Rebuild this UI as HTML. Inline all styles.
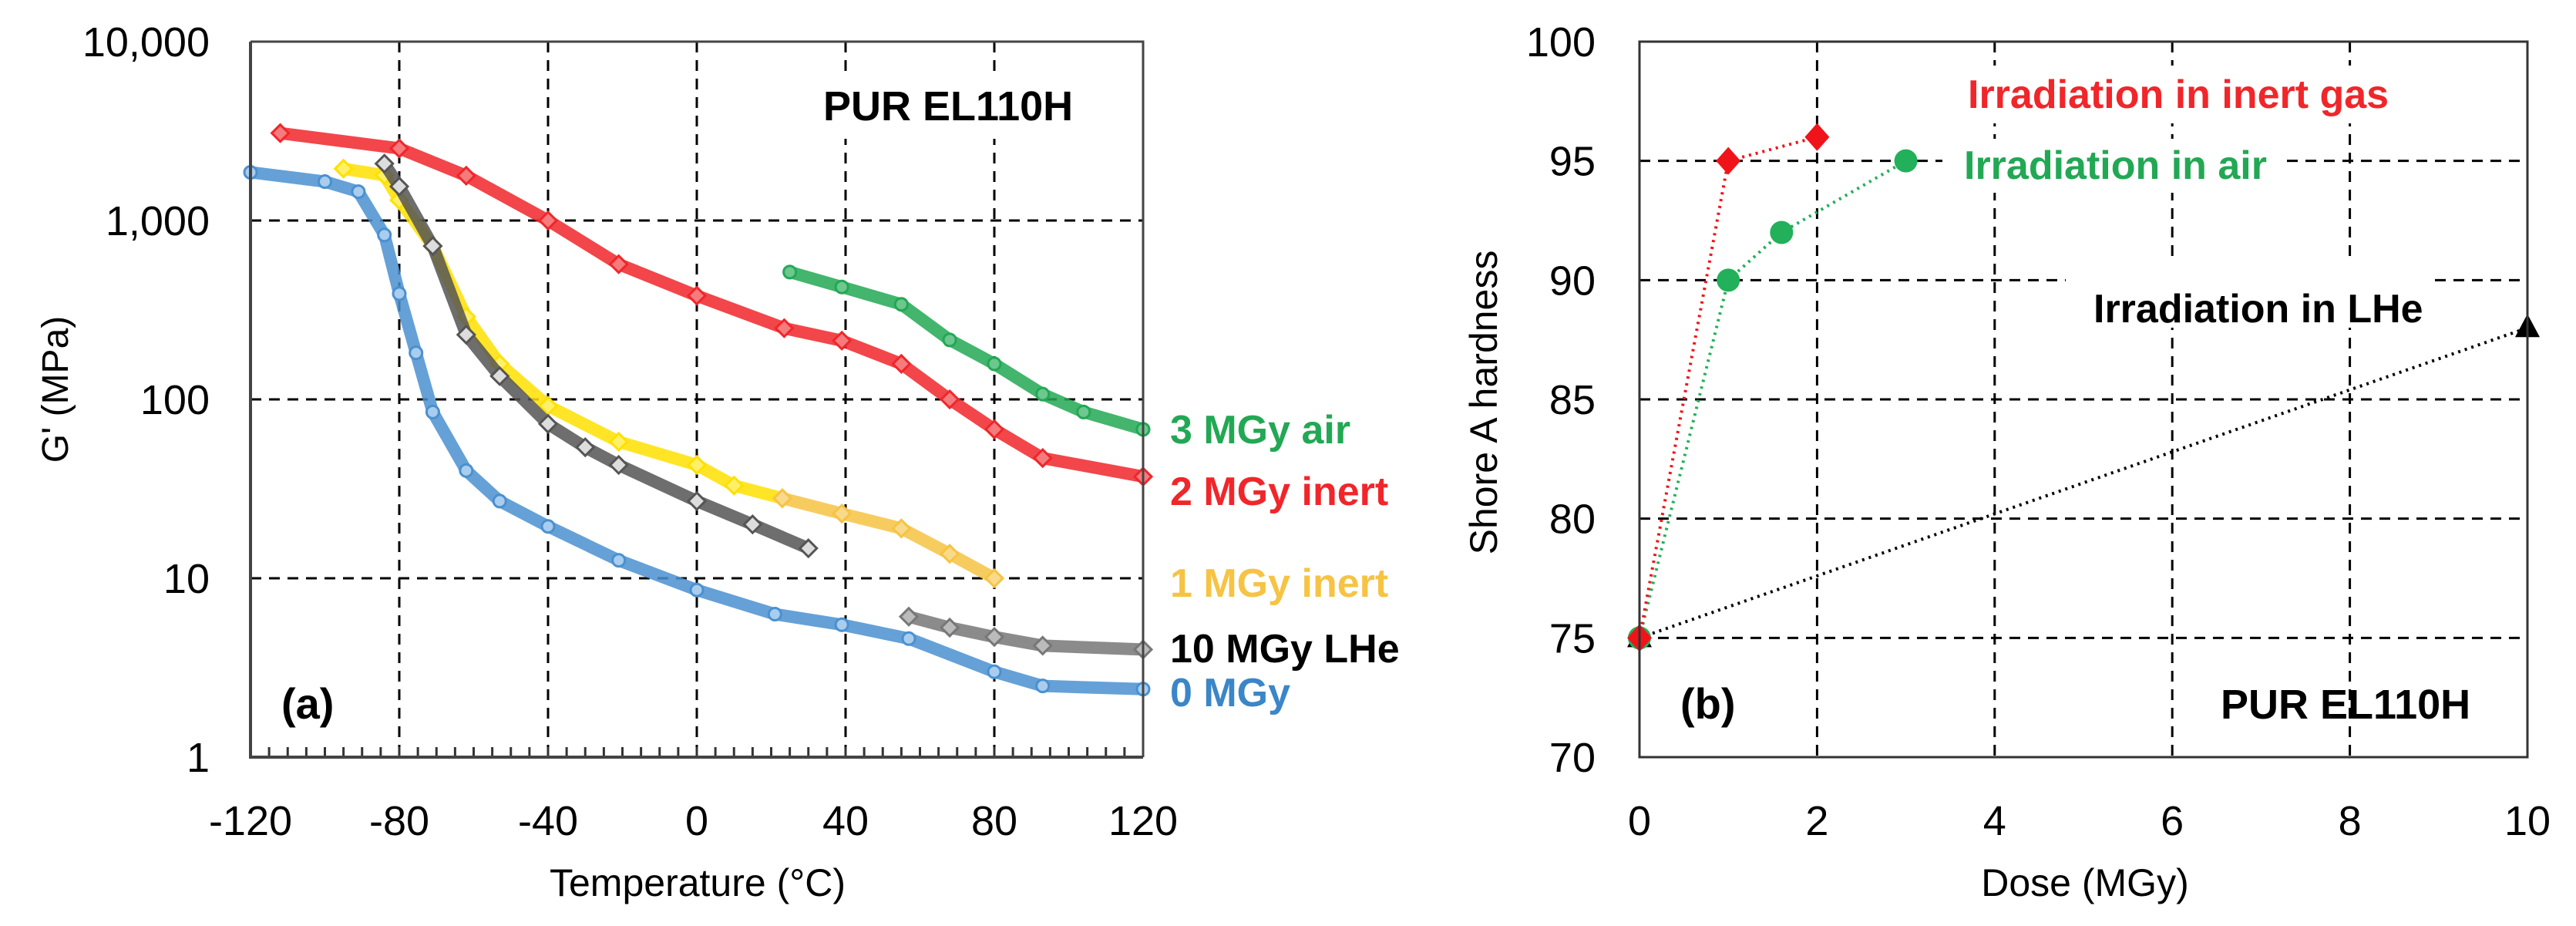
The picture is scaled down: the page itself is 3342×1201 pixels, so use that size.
<!DOCTYPE html>
<html><head><meta charset="utf-8"><style>
html,body{margin:0;padding:0;background:#fff;}
svg{display:block;font-family:"Liberation Sans Narrow","Liberation Sans",sans-serif;}
</style></head><body>
<svg id="fig" width="3342" height="1201" viewBox="0 0 3342 1201" xmlns="http://www.w3.org/2000/svg">
<g id="chartA"></g>
<g id="chartB"></g>
</svg>
<script>
// ---- Chart A data (temperature °C, G' MPa) ----
const aXTicks = [-120,-80,-40,0,40,80,120];
const aYTicks = [1,10,100,1000,10000];
const aYTickLabels = ["1","10","100","1,000","10,000"];
const t0 = [-120,-100,-91,-84,-80,-75.5,-71,-62,-53,-40,-21,0,21,39,57,80,93,120];
const g0 = [1860,1650,1450,830,390,182,85,40,27,19.5,12.6,8.6,6.3,5.5,4.6,3.0,2.5,2.4];
const t2 = [-112,-80,-62,-40,-21,0,23.5,39,55,68,80,93,120];
const g2 = [3080,2530,1780,1000,570,380,250,213,158,100,68,47,37];
const t3 = [25,39,55,68,80,93,104,120];
const g3 = [515,425,340,215,158,107,85,68];
const t1a = [-95,-84,-80,-71,-62,-53,-40,-21,0,10,23];
const g1a = [1950,1790,1300,720,290,158,92,58,43,33,28];
const t1b = [23,39,55,68,80];
const g1b = [28,23,19,13.7,10];
const t10a = [-84,-80,-71,-62,-53,-40,-30,-21,0,15,30];
const g10a = [2080,1550,720,230,135,73,54,43,27,20,14.7];
const t10b = [57,68,80,93,120];
const g10b = [6.1,5.3,4.7,4.2,4.0];
// ---- Chart B data (dose MGy, Shore A) ----
const bXTicks = [0,2,4,6,8,10];
const bYTicks = [70,75,80,85,90,95,100];
const doseInert = [0,1,2];
const hardInert = [75,95,96];
const doseAir = [0,1,1.6,3];
const hardAir = [75,90,92,95];
const doseLHe = [0,10];
const hardLHe = [75,88];

const NS="http://www.w3.org/2000/svg";
function mk(parent,tag,attrs,text){const e=document.createElementNS(NS,tag);for(const k in attrs)e.setAttribute(k,attrs[k]);if(text!==undefined)e.textContent=text;parent.appendChild(e);return e;}

// ===== Chart A =====
const A=document.getElementById('chartA');
const aL=325,aR=1483,aT=54,aB=982;
const ax=v=>aL+(v+120)/240*(aR-aL);
const ay=v=>aB-Math.log10(v)/4*(aB-aT);
// grid
aXTicks.slice(1,-1).forEach(v=>{const l=mk(A,'line',{x1:ax(v),x2:ax(v),y1:aT,y2:aB,stroke:'#000','stroke-width':3,'stroke-dasharray':'14,10'});

});
aYTicks.slice(1,-1).forEach(v=>{const l=mk(A,'line',{x1:aL,x2:aR,y1:ay(v),y2:ay(v),stroke:'#000','stroke-width':3,'stroke-dasharray':'14,10'});

});
// minor ticks
for(let v=-115;v<120;v+=5){const l=mk(A,'line',{x1:ax(v),x2:ax(v),y1:aB,y2:aB-13,stroke:'#333','stroke-width':3});

}
// labels with white backgrounds
function labelA(parent,x,y,txt,color,name,size,bg,anchor){
 if(bg){const r=mk(parent,'rect',{x:bg[0],y:bg[1],width:bg[2],height:bg[3],fill:'#fff'});}
 const t=mk(parent,'text',{x:x,y:y,fill:color,'font-size':size,'font-weight':'bold','text-anchor':anchor||'start'},txt);
 return t;}
labelA(A,1068,156,'PUR EL110H','#000','chart-a-title-label',54,[1050,100,360,80]);
labelA(A,365,932,'(a)','#000','panel-a-label',56);
// series
function seriesA(xs,ys,color,mfill,name,shape){
 const g=mk(A,'g',{});
 const pts=xs.map((x,i)=>ax(x)+','+ay(ys[i])).join(' ');
 const pl=mk(g,'polyline',{points:pts,fill:'none',stroke:color,'stroke-width':16,'stroke-linejoin':'round','stroke-linecap':'round',opacity:0.85});
 
 xs.forEach((x,i)=>{const cx=ax(x),cy=ay(ys[i]);let m;
  if(shape==='d'){m=mk(g,'polygon',{points:`${cx},${cy-11} ${cx+11},${cy} ${cx},${cy+11} ${cx-11},${cy}`,fill:mfill,stroke:color,'stroke-width':3});}
  else{m=mk(g,'circle',{cx:cx,cy:cy,r:8,fill:mfill,stroke:color,'stroke-width':3});}
  });
}
seriesA(t0,g0,'#4a90d0','#a9cdee','series-0-mgy','c');
seriesA(t2,g2,'#f0262a','#f57b7d','series-2-mgy-inert','d');
seriesA(t3,g3,'#22a854','#6cc88e','series-3-mgy-air','c');
seriesA(t1a,g1a,'#ffe000','#fff06a','series-1-mgy-inert-a','d');
seriesA(t1b,g1b,'#f6c343','#f9d98a','series-1-mgy-inert-b','d');
seriesA(t10a,g10a,'#555','#ddd','series-10-mgy-lhe-a','d');
seriesA(t10b,g10b,'#777','#bbb','series-10-mgy-lhe-b','d');
// axes frame
{const r=mk(A,'path',{d:`M${aL},${aT} V${aB} H${aR}`,fill:'none',stroke:'#444','stroke-width':4});}
{const r=mk(A,'path',{d:`M${aL},${aT} H${aR} V${aB}`,fill:'none',stroke:'#444','stroke-width':3});}
// tick labels
aXTicks.forEach(v=>{const t=mk(A,'text',{x:ax(v),y:1083,'font-size':54,'text-anchor':'middle',fill:'#000'},String(v));
});
aYTicks.forEach((v,i)=>{const t=mk(A,'text',{x:272,y:ay(v)+19,'font-size':54,'text-anchor':'end',fill:'#000'},aYTickLabels[i]);
});
{const t=mk(A,'text',{x:905,y:1162,'font-size':50,'text-anchor':'middle',fill:'#000'},'Temperature (°C)');}
{const t=mk(A,'text',{x:0,y:0,'font-size':48,'text-anchor':'middle',fill:'#000',transform:'translate(88,505) rotate(-90)'},"G' (MPa)");}
// legend labels
labelA(A,1518,575,'3 MGy air','#22a854','legend-3-mgy-air',52);
labelA(A,1518,655,'2 MGy inert','#f0262a','legend-2-mgy-inert',52);
labelA(A,1518,774,'1 MGy inert','#f6c343','legend-1-mgy-inert',52);
labelA(A,1518,859,'10 MGy LHe','#000','legend-10-mgy-lhe',52);
labelA(A,1518,916,'0 MGy','#3a86c8','legend-0-mgy',52);

// ===== Chart B =====
const B=document.getElementById('chartB');
const bL=2127,bR=3279,bT=54,bB=982;
const bx=v=>bL+v/10*(bR-bL);
const by=v=>bB-(v-70)/30*(bB-bT);
bXTicks.slice(1,-1).forEach(v=>{const l=mk(B,'line',{x1:bx(v),x2:bx(v),y1:bT,y2:bB,stroke:'#000','stroke-width':3,'stroke-dasharray':'14,10'});

});
bYTicks.slice(1,-1).forEach(v=>{const l=mk(B,'line',{x1:bL,x2:bR,y1:by(v),y2:by(v),stroke:'#000','stroke-width':3,'stroke-dasharray':'14,10'});

});
labelA(B,2553,140,'Irradiation in inert gas','#f0262a','legend-inert-gas',52,[2540,85,580,75]);
labelA(B,2548,232,'Irradiation in air','#22a854','legend-air',52,[2520,180,440,70]);
labelA(B,2716,418,'Irradiation in LHe','#000','legend-lhe',52,[2680,335,470,90]);
labelA(B,2180,932,'(b)','#000','panel-b-label',56);
labelA(B,2881,932,'PUR EL110H','#000','chart-b-title-label',54);
function seriesB(xs,ys,color,name,shape){
 const g=mk(B,'g',{});
 const pl=mk(g,'polyline',{points:xs.map((x,i)=>bx(x)+','+by(ys[i])).join(' '),fill:'none',stroke:color,'stroke-width':4,'stroke-dasharray':'3,6'});
 
 xs.forEach((x,i)=>{const cx=bx(x),cy=by(ys[i]);let m;
  if(shape==='d')m=mk(g,'polygon',{points:`${cx},${cy-18} ${cx+16},${cy} ${cx},${cy+18} ${cx-16},${cy}`,fill:color});
  else if(shape==='t')m=mk(g,'polygon',{points:`${cx},${cy-18} ${cx+16},${cy+12} ${cx-16},${cy+12}`,fill:color});
  else m=mk(g,'circle',{cx:cx,cy:cy,r:15,fill:color});
  });
}
seriesB(doseLHe,hardLHe,'#000','series-lhe','t');
seriesB(doseAir,hardAir,'#22b05a','series-air','c');
seriesB(doseInert,hardInert,'#f0141a','series-inert','d');
{const r=mk(B,'rect',{x:bL,y:bT,width:bR-bL,height:bB-bT,fill:'none',stroke:'#333','stroke-width':3});}
bXTicks.forEach(v=>{const t=mk(B,'text',{x:bx(v),y:1083,'font-size':54,'text-anchor':'middle',fill:'#000'},String(v));
});
bYTicks.forEach(v=>{const t=mk(B,'text',{x:2070,y:by(v)+19,'font-size':54,'text-anchor':'end',fill:'#000'},String(v));
});
{const t=mk(B,'text',{x:2705,y:1162,'font-size':50,'text-anchor':'middle',fill:'#000'},'Dose (MGy)');}
{const t=mk(B,'text',{x:0,y:0,'font-size':50,'text-anchor':'middle',fill:'#000',transform:'translate(1942,522) rotate(-90)'},'Shore A hardness');}
</script>
</body></html>
